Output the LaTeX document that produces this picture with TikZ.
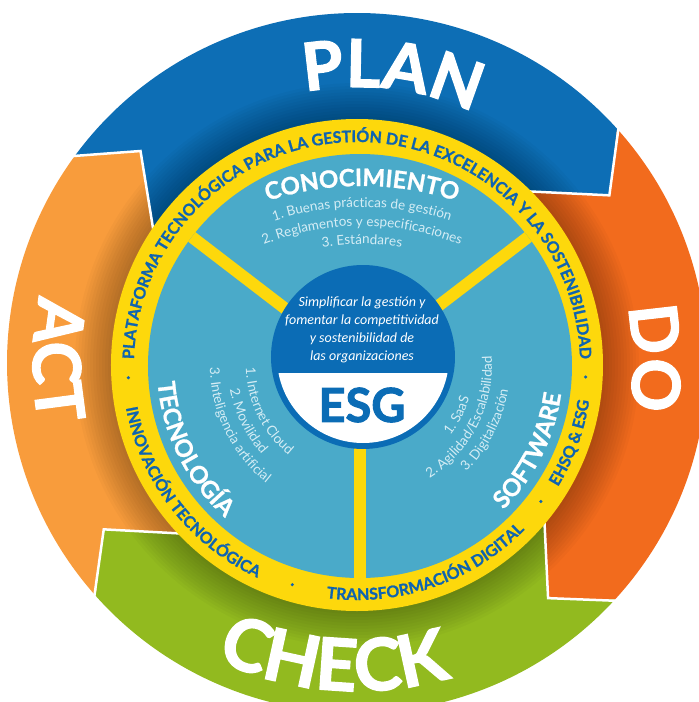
\documentclass[tikz,border=0pt]{standalone}
\usepackage{fontspec}
\setmainfont{Lato}
\newfontfamily\heavy{Lato}[FakeBold=2]
\newfontfamily\semiheavy{Lato}[FakeBold=1]
\newfontfamily\carl{Carlito}
\usetikzlibrary{decorations.text}
\definecolor{planblue}{HTML}{0D6EB5}
\definecolor{doorange}{HTML}{F26B1D}
\definecolor{actorange}{HTML}{F89C3C}
\definecolor{checkgreen}{HTML}{92BA1F}
\definecolor{ringyellow}{HTML}{FDD80C}
\definecolor{lightblue}{HTML}{4AAAC9}
\definecolor{esgblue}{HTML}{0B6CB5}
\definecolor{ringtext}{HTML}{0F64B0}
\definecolor{itemcol}{HTML}{D5EDF5}
\newcommand\fBig{\heavy\fontsize{66}{66}\selectfont\bfseries}
\newcommand\fCheck{\heavy\fontsize{72}{72}\selectfont\bfseries}
\newcommand\fRing{\semiheavy\fontsize{16}{16}\selectfont\bfseries}
\newcommand\fTitle{\semiheavy\fontsize{24}{24}\selectfont\bfseries}
\newcommand\fItem{\fontsize{13.5}{14}\selectfont}
\newcommand\pdcaband[3]{\fill[#3] (#1:350) arc[start angle=#1,end angle=#2,radius=350] -- ({#2-8.4}:303) -- ({#2+6}:232) arc[start angle={#2+6},end angle={#1+6},radius=232] -- ({#1-8.4}:303) -- cycle;}
\newcommand\headedge[1]{\draw[white,line width=2.5pt,line join=miter] (#1:352) -- ({#1-8.4}:303) -- ({#1+6}:232);}
\newcommand\arctext[7]{\path[shift={#1},decorate,decoration={text along path,text align=center,text color=#5,text={|#6|#7}}] (#3:#2) arc[start angle=#3,end angle=#4,radius=#2];}
\begin{document}
\begin{tikzpicture}[x=1pt,y=1pt]
\useasboundingbox (-357,-339) rectangle (342,363);
\fill[white] (-357,-339) rectangle (342,363);
% PDCA bands
\pdcaband{144}{42}{planblue}
\pdcaband{42}{-42.5}{doorange}
\pdcaband{-42.5}{-138.3}{checkgreen}
\pdcaband{-138.3}{-216}{actorange}
\foreach \i in {1,...,12} \fill[black,opacity=0.022] (0,-2) circle ({246+3*\i});
\headedge{42}
\headedge{-42.5}
\headedge{-138.3}
\headedge{144}
% PDCA words
\arctext{(0,0)}{276}{113}{53}{white}{\fBig}{PLAN}
\arctext{(0,0)}{276}{31}{-29}{white}{\fBig}{DO}
\arctext{(0,0)}{328}{235.6}{295.6}{white}{\fCheck}{CHECK}
\arctext{(0,0)}{324}{149.5}{209.5}{white}{\fBig}{ACT}
% yellow ring and inner disc
\fill[ringyellow] (0,-2) circle (246);
\fill[lightblue] (3,-3) circle (212);
\foreach \a in {37.5,142.5,270} \draw[ringyellow,line width=12pt] (3,-3) -- ++(\a:212);
% ring texts
\arctext{(0,-2)}{223}{190}{-10}{ringtext}{\fRing}{PLATAFORMA TECNOLÓGICA PARA LA GESTIÓN DE LA EXCELENCIA Y LA SOSTENIBILIDAD}
\arctext{(0,-2)}{235}{182.7}{252.7}{ringtext}{\fRing}{INNOVACIÓN TECNOLÓGICA}
\arctext{(0,-2)}{235}{254}{324}{ringtext}{\fRing}{TRANSFORMACIÓN DIGITAL}
\arctext{(0,-2)}{235}{310}{370}{ringtext}{\fRing}{EHSQ {\&} ESG}
\foreach \a in {183.2,253.6,323.4,357} \fill[ringtext,shift={(0,-2)}] (\a:229) circle (1.7);
% segment texts
\arctext{(5,-127)}{304}{120}{60}{white}{\fTitle}{CONOCIMIENTO}
\arctext{(5,-127)}{283}{120}{60}{itemcol}{\fItem}{1. Buenas prácticas de gestión}
\arctext{(5,-127)}{264}{120}{60}{itemcol}{\fItem}{2. Reglamentos y especificaciones}
\arctext{(5,-127)}{246}{120}{60}{itemcol}{\fItem}{3. Estándares}
\arctext{(3,-3)}{203}{166.5}{246.5}{white}{\fTitle}{TECNOLOGÍA}
\arctext{(3,-3)}{114}{146}{266}{itemcol}{\fItem}{1. Internet Cloud}
\arctext{(3,-3)}{132}{146}{266}{itemcol}{\fItem}{2. Movilidad}
\arctext{(3,-3)}{150}{146}{266}{itemcol}{\fItem}{3. Inteligencia artificial}
\arctext{(3,-3)}{203}{-66.5}{13.5}{white}{\fTitle}{SOFTWARE}
\arctext{(3,-3)}{114}{-87}{33}{itemcol}{\fItem}{1. SaaS}
\arctext{(3,-3)}{132}{-87}{33}{itemcol}{\fItem}{2. Agilidad/Escalabilidad}
\arctext{(3,-3)}{150}{-87}{33}{itemcol}{\fItem}{3. Digitalización}
% ESG centre
\fill[esgblue] (6,6) circle (92);
\begin{scope}
\clip (6,6) circle (86);
\fill[white] (-100,-100) rectangle (110,-10);
\end{scope}
\node[font=\carl\itshape\fontsize{14}{18}\selectfont,text=white,align=center] (mission) at (5,33) {Simplificar la gestión y\\fomentar la competitividad\\y sostenibilidad de\\las organizaciones};
\node[font=\heavy\fontsize{47}{47}\selectfont\bfseries,text=esgblue] (esg) at (5,-42) {ESG};
\end{tikzpicture}
\end{document}
